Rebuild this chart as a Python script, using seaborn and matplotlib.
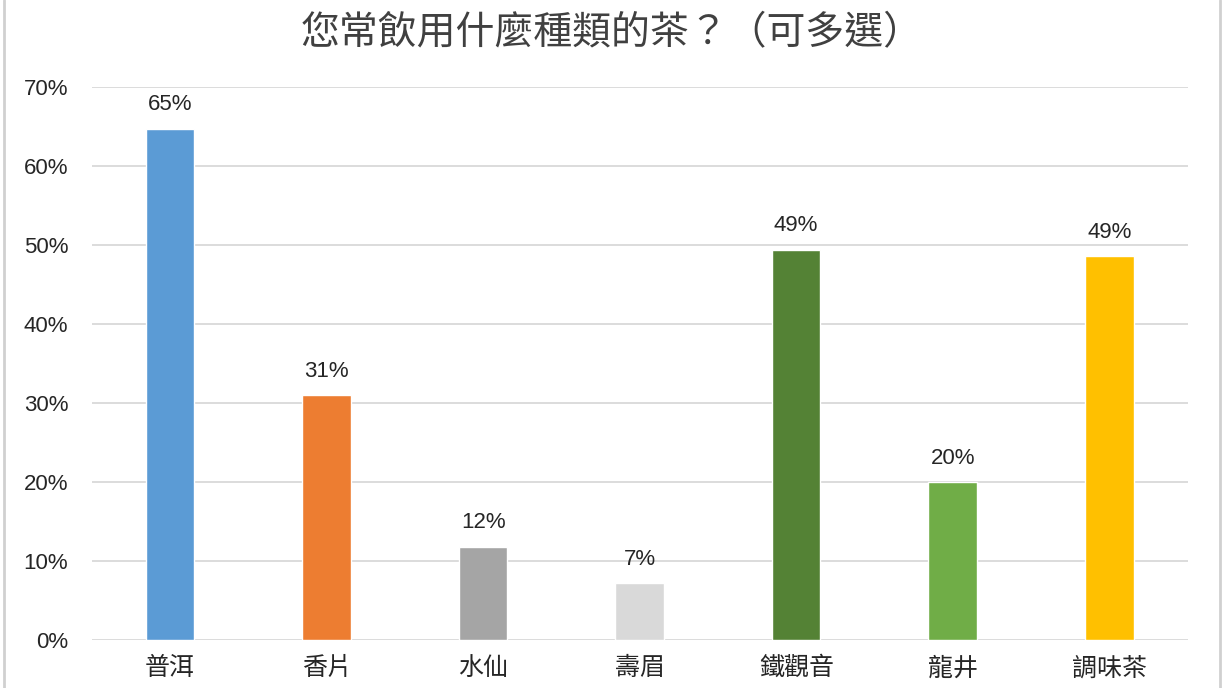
import pandas as pd
import matplotlib.pyplot as plt
import seaborn as sns
from matplotlib.lines import Line2D

# Chart data
categories = ["普洱", "香片", "水仙", "壽眉", "鐵觀音", "龍井", "調味茶"]
shares = [0.647, 0.310, 0.118, 0.072, 0.494, 0.200, 0.486]
bar_labels = ["65%", "31%", "12%", "7%", "49%", "20%", "49%"]
bar_colors = ["#5B9BD5", "#ED7D31", "#A5A5A5", "#D9D9D9", "#548235", "#70AD47", "#FFC000"]
y_ticks = [0, 0.1, 0.2, 0.3, 0.4, 0.5, 0.6, 0.7]
y_tick_labels = ["0%", "10%", "20%", "30%", "40%", "50%", "60%", "70%"]
title = "您常飲用什麼種類的茶？（可多選）"


def main():
    sns.set_style("white")
    plt.rcParams["font.family"] = ["Noto Sans CJK TC", "DejaVu Sans"]

    df = pd.DataFrame({"category": categories, "share": shares})

    fig = plt.figure(figsize=(12.23, 6.88), dpi=100)
    ax = fig.add_axes([0.075, 0.0698, 0.896, 0.8037])

    sns.barplot(data=df, x="category", y="share", hue="category",
                palette=bar_colors, width=0.31, legend=False, ax=ax,
                saturation=1, zorder=3)

    # value labels above the bars
    for bar, text in zip(ax.patches, bar_labels):
        ax.text(bar.get_x() + bar.get_width() / 2, bar.get_height() + 0.017,
                text, ha="center", va="bottom", fontsize=16,
                color="#262626", family=["Liberation Sans", "DejaVu Sans"])

    ax.set_ylim(0, 0.7)
    ax.set_xlim(-0.5, len(categories) - 0.5)
    ax.set_yticks(y_ticks)
    ax.set_yticklabels(y_tick_labels, fontsize=16, color="#262626",
                       family=["Liberation Sans", "DejaVu Sans"])
    ax.tick_params(axis="x", labelsize=18, colors="#262626", length=0, pad=11)
    ax.tick_params(axis="y", length=0, pad=17)
    ax.set_xlabel("")
    ax.set_ylabel("")
    ax.grid(axis="y", color="#D9D9D9", linewidth=1.3, zorder=0)
    sns.despine(ax=ax, left=True, bottom=True, top=True, right=True)

    fig.text(0.5, 0.952, title, ha="center", va="center", fontsize=28,
             color="#404040")

    # thin outer frame of the chart
    fig.add_artist(Line2D([0.0035, 0.0035], [0, 1], color="#D0D0D0", linewidth=2,
                          transform=fig.transFigure))
    fig.add_artist(Line2D([0.9975, 0.9975], [0, 1], color="#D0D0D0", linewidth=2,
                          transform=fig.transFigure))

    fig.savefig("out.png", dpi=100)


if __name__ == "__main__":
    main()
